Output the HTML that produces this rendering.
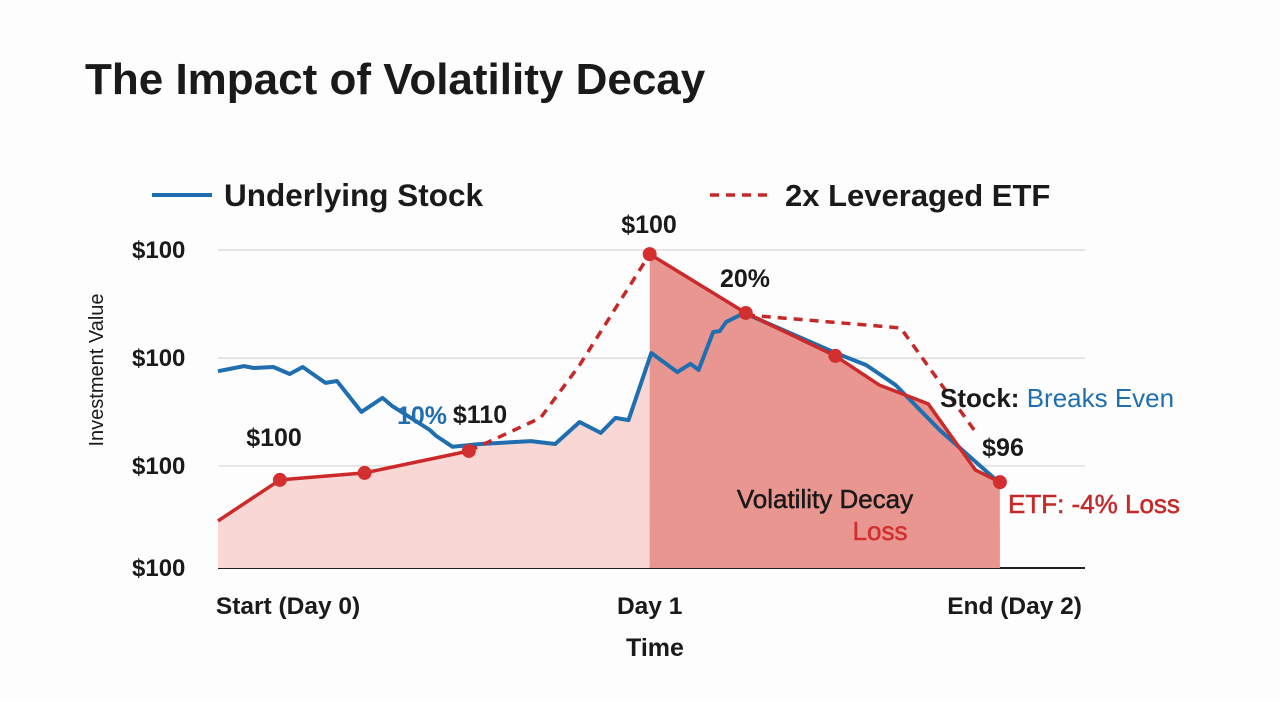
<!DOCTYPE html>
<html><head><meta charset="utf-8"><style>
body{margin:0;background:#fff;}
svg text{font-family:"Liberation Sans",sans-serif;}
</style></head><body>
<svg id="chart" width="1280" height="698" viewBox="0 0 1280 698" xmlns="http://www.w3.org/2000/svg">
<rect width="1280" height="698" fill="#fdfdfd"/>
<text x="85" y="94" font-size="44" font-weight="bold" fill="#1a1a1a">The Impact of Volatility Decay</text>
<g>
<line x1="152" y1="195" x2="212" y2="195" stroke="#1f6fb0" stroke-width="4"/>
<text x="224" y="206" font-size="31.5" font-weight="bold" fill="#1a1a1a">Underlying Stock</text>
<line x1="710" y1="195" x2="770" y2="195" stroke="#c62828" stroke-width="3.5" stroke-dasharray="9,7"/>
<text x="785" y="206" font-size="31" font-weight="bold" fill="#1a1a1a">2x Leveraged ETF</text>
</g>
<g id="grid"></g>
<g id="fills"></g>
<g id="lines"></g>
<g id="marks"></g>
<g id="labels"></g>
<text transform="translate(103,370) rotate(-90)" text-anchor="middle" font-size="20" fill="#1a1a1a">Investment Value</text>
<text x="655" y="656" text-anchor="middle" font-size="25" font-weight="bold" fill="#1a1a1a">Time</text>
<g font-weight="bold" font-size="25">
<text x="649" y="233" text-anchor="middle" fill="#1a1a1a">$100</text>
<text x="745" y="287" text-anchor="middle" fill="#1a1a1a">20%</text>
<text x="274" y="446" text-anchor="middle" fill="#1a1a1a">$100</text>
<text x="422" y="424" text-anchor="middle" fill="#1f6fb0">10%</text>
<text x="480" y="423" text-anchor="middle" fill="#1a1a1a">$110</text>
<text x="940" y="407" font-size="26" fill="#1a1a1a">Stock: <tspan fill="#1f6fb0" font-weight="normal">Breaks Even</tspan></text>
<text x="1003" y="456" text-anchor="middle" fill="#1a1a1a">$96</text>
<text x="825" y="508" text-anchor="middle" fill="#1a1a1a" font-size="26" font-weight="normal" stroke="#1a1a1a" stroke-width="0.5">Volatility Decay</text>
<text x="880" y="540" text-anchor="middle" fill="#d32f2f" font-size="26" font-weight="normal" stroke="#d32f2f" stroke-width="0.5">Loss</text>
<text x="1008" y="513" fill="#c62828" font-size="26" font-weight="normal" stroke="#c62828" stroke-width="0.5">ETF: -4% Loss</text>
</g>
</svg>
<script>
const yTicks=[0,32.1,66,100];
const yTickLabels=['$100','$100','$100','$100'];
const xTicks=[4.3,26.5,48.9];
const xTickLabels=['Start (Day 0)','Day 1','End (Day 2)'];
const stockT=[0,1.6,2.2,3.4,4.4,5.2,6.6,7.3,8.8,10.1,10.7,13.0,13.4,14.4,16.1,19.2,20.7,22.2,23.5,24.4,25.2,26.6,28.2,29.0,29.5,30.4,30.8,31.2,32.3,38.2,39.8,41.6,44.3,47.7];
const stockV=[61.9,63.5,62.9,63.2,61.0,63.2,58.2,58.8,49.1,53.5,50.9,43.4,41.5,38.1,39.0,39.9,39.0,45.9,42.5,47.2,46.5,67.6,61.6,64.2,62.3,74.2,74.5,77.4,80.2,67.0,63.8,57.5,43.4,28.0];
const etfT1=[0,3.8,9.0,15.4];
const etfV1=[14.8,27.7,29.9,36.8];
const etfT2=[26.5,32.4,37.9,40.6,43.6,46.5,48];
const etfV2=[98.7,80.2,66.7,57.5,51.6,30.8,27.0];
const dashT1=[15.4,19.8,22.2,26.5];
const dashV1=[36.8,47.2,63.8,98.7];
const dashT2=[32.4,41.9,46.5];
const dashV2=[79.6,75.5,42.8];
const markerT=[3.8,9.0,15.4,26.5,32.4,37.9,48];
const markerV=[27.7,29.9,36.8,98.7,80.2,66.7,27.0];

const X=t=>218+t*16.29;
const Y=v=>568-v*3.18;
const NS='http://www.w3.org/2000/svg';
function mk(tag,parent,attrs){const e=document.createElementNS(NS,tag);for(const k in attrs)e.setAttribute(k,attrs[k]);document.getElementById(parent).appendChild(e);return e;}
const pts=(T,V)=>T.map((t,i)=>X(t).toFixed(1)+','+Y(V[i]).toFixed(1)).join(' ');

yTicks.forEach((v,i)=>{
 const l=mk('line','grid',{x1:218,x2:1085,y1:Y(v),y2:Y(v),stroke:i===0?'#222':'#d6d6d6','stroke-width':i===0?2:1.2});
 
 
 const t=mk('text','labels',{x:132,y:Y(v)+8,'font-size':24,'font-weight':'bold',fill:'#1a1a1a'});
 t.textContent=yTickLabels[i];
 
 
});
xTicks.forEach((v,i)=>{
 const t=mk('text','labels',{x:X(v),y:614,'text-anchor':'middle','font-size':24.5,'font-weight':'bold',fill:'#1a1a1a'});
 t.textContent=xTickLabels[i];
 
 
});
const lightT=etfT1.concat(stockT.filter(t=>t>15.4&&t<=26.6));
const lightV=etfV1.concat(stockV.filter((v,i)=>stockT[i]>15.4&&stockT[i]<=26.6));
const lf=mk('polygon','fills',{points:X(0)+','+Y(0)+' '+pts(lightT,lightV)+' '+X(26.5)+','+Y(0),fill:'#f8d7d4'});


const df=mk('polygon','fills',{points:X(26.5)+','+Y(0)+' '+pts(etfT2,etfV2)+' '+X(48)+','+Y(0),fill:'#ea9690'});



const sl=mk('polyline','lines',{points:pts(stockT,stockV),fill:'none',stroke:'#1f6fb0','stroke-width':4,'stroke-linejoin':'round'});


[[dashT1,dashV1],[dashT2,dashV2]].forEach(([T,V])=>{
 const d=mk('polyline','lines',{points:pts(T,V),fill:'none',stroke:'#c62828','stroke-width':3.5,'stroke-dasharray':'9,7'});
 
 
});
[[etfT1,etfV1],[etfT2,etfV2]].forEach(([T,V])=>{
 const d=mk('polyline','lines',{points:pts(T,V),fill:'none',stroke:'#cc2a2a','stroke-width':3.5,'stroke-linejoin':'round'});
 
 
});
markerT.forEach((t,i)=>{
 const c=mk('circle','marks',{cx:X(t),cy:Y(markerV[i]),r:7,fill:'#d32f2f'});
 
 
});
</script>
</body></html>
